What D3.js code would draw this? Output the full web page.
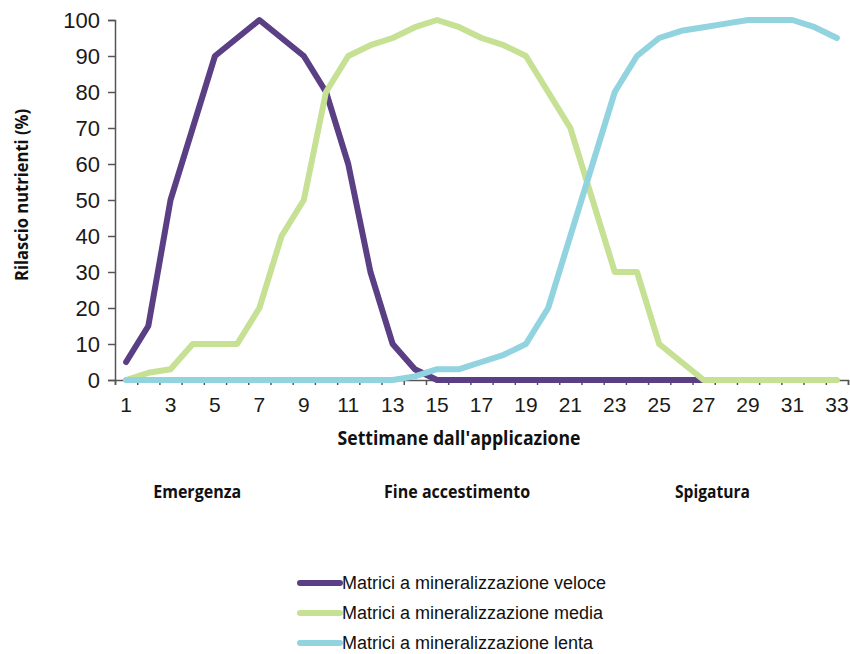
<!DOCTYPE html>
<html>
<head>
<meta charset="utf-8">
<script src="https://cdn.jsdelivr.net/npm/d3@7"></script>
<style>
  body { margin: 0; background: #fff; }
  svg text { font-family: "Liberation Sans", Arial, sans-serif; }
</style>
</head>
<body>
<div id="chart"></div>
<script>
const weeks = d3.range(1, 34);
const veloce = [5, 15, 50, 70, 90, 95, 100, 95, 90, 80, 60, 30, 10, 3, 0, 0, 0, 0, 0, 0, 0, 0, 0, 0, 0, 0, 0, null, null, null, null, null, null];
const media = [0, 2, 3, 10, 10, 10, 20, 40, 50, 80, 90, 93, 95, 98, 100, 98, 95, 93, 90, 80, 70, 50, 30, 30, 10, 5, 0, 0, 0, 0, 0, 0, 0];
const lenta = [0, 0, 0, 0, 0, 0, 0, 0, 0, 0, 0, 0, 0, 1, 3, 3, 5, 7, 10, 20, 40, 60, 80, 90, 95, 97, 98, 99, 100, 100, 100, 98, 95];
const seriesNames = ["Matrici a mineralizzazione veloce", "Matrici a mineralizzazione media", "Matrici a mineralizzazione lenta"];
const seriesColors = ["#5a3f85", "#c6e094", "#92d3e0"];
const yTicks = d3.range(0, 101, 10);
const stages = [{ name: "Emergenza", week: 4.2 }, { name: "Fine accestimento", week: 15.9 }, { name: "Spigatura", week: 27.4 }];

const W = 850, H = 654;
const margin = { left: 115, right: 848, top: 20, bottom: 380 };
const titleFont = "'Open Sans', 'Noto Sans', sans-serif";

const svg = d3.select("#chart").append("svg")
    .attr("width", W)
    .attr("height", H);

const x = d3.scaleBand().domain(weeks).range([margin.left, margin.right]);
const xEdge = d3.scaleLinear().domain([0, weeks.length]).range([margin.left, margin.right]);
const xMid = d => x(d) + x.bandwidth() / 2;
const y = d3.scaleLinear().domain([0, 100]).range([margin.bottom, margin.top]);

// y axis
const yAxis = svg.append("g")
    .attr("transform", `translate(${margin.left},0)`)
    .call(d3.axisLeft(y).tickValues(yTicks).tickSize(7).tickPadding(8));
yAxis.selectAll("text").style("font-size", "22px").style("fill", "#1a1a1a");

// x axis: boundary ticks + odd labels
svg.append("g")
    .attr("transform", `translate(0,${margin.bottom})`)
    .call(d3.axisBottom(xEdge).tickValues(d3.range(0, weeks.length + 1)).tickSize(5).tickFormat(""));
const xLabels = svg.append("g")
    .attr("transform", `translate(0,${margin.bottom})`)
    .call(d3.axisBottom(x).tickSize(0).tickPadding(17).tickFormat(d => d % 2 ? d : ""));
xLabels.select(".domain").remove();
xLabels.selectAll("text").style("font-size", "21px").style("fill", "#1a1a1a");

svg.selectAll(".domain, .tick line")
    .attr("stroke", "#555")
    .attr("stroke-width", 1.5);

// axis titles
svg.append("text")
    .attr("transform", `translate(28,${(margin.top + margin.bottom) / 2 - 5}) rotate(-90)`)
    .attr("text-anchor", "middle")
    .attr("textLength", 172)
    .attr("lengthAdjust", "spacingAndGlyphs")
    .style("font-family", titleFont)
    .style("font-size", "18px")
    .style("font-weight", "bold")
    .style("fill", "#111")
    .text("Rilascio nutrienti (%)");

svg.append("text")
    .attr("x", 459)
    .attr("y", 445)
    .attr("text-anchor", "middle")
    .attr("textLength", 243)
    .attr("lengthAdjust", "spacingAndGlyphs")
    .style("font-family", titleFont)
    .style("font-size", "19px")
    .style("font-weight", "bold")
    .style("fill", "#111")
    .text("Settimane dall'applicazione");

const stageWidths = { "Emergenza": 88, "Fine accestimento": 146, "Spigatura": 75 };
svg.selectAll(".stage")
    .data(stages)
    .enter()
    .append("text")
    .attr("class", "stage")
    .attr("x", d => xEdge(d.week - 0.5))
    .attr("y", 498)
    .attr("text-anchor", "middle")
    .attr("textLength", d => stageWidths[d.name])
    .attr("lengthAdjust", "spacingAndGlyphs")
    .style("font-family", titleFont)
    .style("font-size", "17px")
    .style("font-weight", "bold")
    .style("fill", "#111")
    .text(d => d.name);

// lines
const line = d3.line()
    .defined(d => d != null)
    .x((d, i) => xMid(weeks[i]))
    .y(d => y(d));

[veloce, media, lenta].forEach((vals, i) => {
    svg.append("path")
        .datum(vals)
        .attr("fill", "none")
        .attr("stroke", seriesColors[i])
        .attr("stroke-width", 6)
        .attr("stroke-linejoin", "round")
        .attr("stroke-linecap", "round")
        .attr("d", line);
});

// legend
const legend = svg.append("g").attr("transform", "translate(300,583)");
seriesNames.forEach((name, i) => {
    const g = legend.append("g").attr("transform", `translate(0,${i * 30})`);
    g.append("line")
        .attr("x1", 0).attr("x2", 40)
        .attr("stroke", seriesColors[i])
        .attr("stroke-width", 6)
        .attr("stroke-linecap", "round");
    g.append("text")
        .attr("x", 42)
        .attr("dy", "0.35em")
        .style("font-size", "18px")
        .style("fill", "#111")
        .text(name);
});
</script>
</body>
</html>
